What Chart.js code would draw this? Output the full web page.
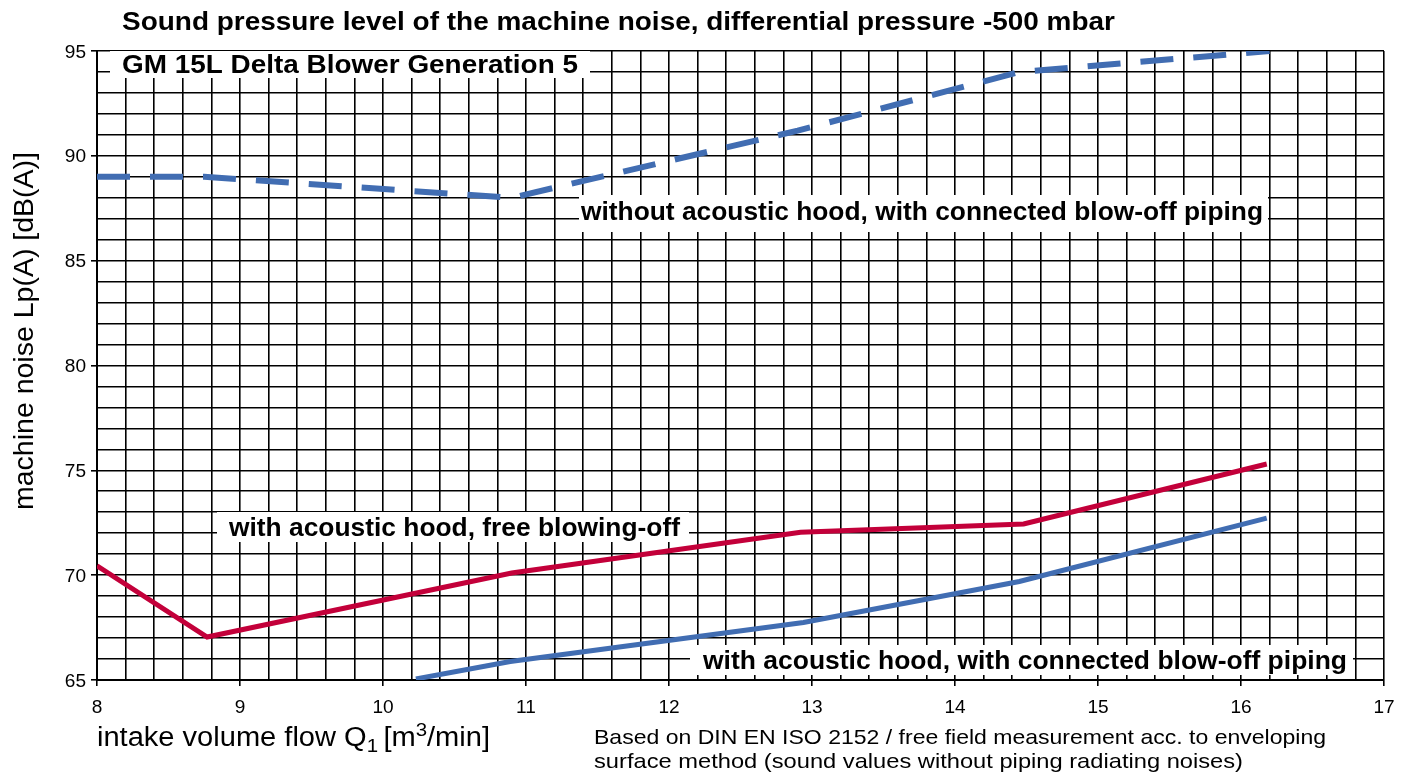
<!DOCTYPE html>
<html>
<head>
<meta charset="utf-8">
<title>Sound pressure level GM 15L</title>
<script src="https://cdn.jsdelivr.net/npm/chart.js@4.4.1/dist/chart.umd.min.js"></script>
<style>
    body { margin: 0; background: #fff; }
    #wrap { width: 1406px; height: 775px; position: relative; }
</style>
</head>
<body>
<div id="wrap"><canvas id="noiseChart" width="1406" height="775"></canvas></div>
<script>
// Values
const flowWithoutHood = [8, 8.75, 10.9, 12.9, 14.45, 16.2];
const noiseWithoutHood = [89, 89, 88, 91.2, 94, 95];

const flowHoodFree = [8, 8.77, 10.9, 12.92, 14.48, 16.18];
const noiseHoodFree = [70.45, 67.05, 70.1, 72.05, 72.44, 75.3];

const flowHoodPiping = [10.23, 10.89, 12.94, 14.45, 16.18];
const noiseHoodPiping = [65.05, 65.88, 67.74, 69.7, 72.72];

const xTickLabels = [8, 9, 10, 11, 12, 13, 14, 15, 16, 17];
const yTickLabels = [65, 70, 75, 80, 85, 90, 95];

const FONT = '"Liberation Sans", Arial, Helvetica, sans-serif';
const BLUE = '#416db2';
const RED = '#c3003a';
const STRETCH = 1.06; // tick numbers are a touch wider than Arial

function toPoints(xs, ys) {
    return xs.map((x, i) => ({ x: x, y: ys[i] }));
}

function isMajor(values, v) {
    return values.some(t => Math.abs(t - v) < 1e-6);
}

// draw text squeezed/stretched horizontally to a given width
function fillFit(ctx, text, x, y, font, width) {
    ctx.save();
    ctx.font = font;
    const w = ctx.measureText(text).width;
    ctx.translate(x, y);
    ctx.scale(width / w, 1);
    ctx.textAlign = 'left';
    ctx.fillText(text, 0, 0);
    ctx.restore();
}

function fillStretch(ctx, text, x, y, font, align) {
    ctx.save();
    ctx.font = font;
    const w = ctx.measureText(text).width * STRETCH;
    let left = x;
    if (align === 'center') left = x - w / 2;
    if (align === 'right') left = x - w;
    ctx.translate(left, y);
    ctx.scale(STRETCH, 1);
    ctx.textAlign = 'left';
    ctx.fillText(text, 0, 0);
    ctx.restore();
}

// Labels inside the plot with their white boxes
const curveLabels = [
    { text: 'GM 15L Delta Blower Generation 5', box: [110, 51, 590, 78], tx: 122, ty: 73, w: 456 },
    { text: 'without acoustic hood, with connected blow-off piping', box: [579, 195, 1268, 232], tx: 581, ty: 220, w: 682 },
    { text: 'with acoustic hood, free blowing-off', box: [217, 512, 689, 542], tx: 229, ty: 536, w: 451 },
    { text: 'with acoustic hood, with connected blow-off piping', box: [690, 645, 1353, 675], tx: 703, ty: 669, w: 644 }
];

const labelPlugin = {
    id: 'labelPlugin',
    beforeDatasetsDraw(chart) {
        const ctx = chart.ctx;
        ctx.save();
        curveLabels.forEach(l => {
            ctx.fillStyle = '#fff';
            ctx.fillRect(l.box[0], l.box[1], l.box[2] - l.box[0], l.box[3] - l.box[1]);
            ctx.fillStyle = '#000';
            ctx.textBaseline = 'alphabetic';
            fillFit(ctx, l.text, l.tx, l.ty, 'bold 26px ' + FONT, l.w);
        });
        ctx.restore();
    },
    afterDraw(chart) {
        const ctx = chart.ctx;
        const xs = chart.scales.x;
        const ys = chart.scales.y;
        ctx.save();
        ctx.fillStyle = '#000';
        ctx.textBaseline = 'alphabetic';

        // tick labels
        xTickLabels.forEach(v => {
            fillStretch(ctx, String(v), xs.getPixelForValue(v), 713, '18px ' + FONT, 'center');
        });
        yTickLabels.forEach(v => {
            fillStretch(ctx, String(v), 86, ys.getPixelForValue(v) + 6.5, '18px ' + FONT, 'right');
        });

        // Main title
        fillFit(ctx, 'Sound pressure level of the machine noise, differential pressure -500 mbar',
            122, 30, 'bold 26px ' + FONT, 993);

        // X axis title with subscript and superscript
        const big = '27px ' + FONT;
        const small = '19px ' + FONT;
        const parts = [
            { t: 'intake volume flow Q', f: big, dy: 0, gap: 0 },
            { t: '1', f: small, dy: 6, gap: 5 },
            { t: '[m', f: big, dy: 0, gap: 0 },
            { t: '3', f: small, dy: -10, gap: 0 },
            { t: '/min]', f: big, dy: 0, gap: 0 }
        ];
        let natural = 0;
        parts.forEach(p => { ctx.font = p.f; p.w = ctx.measureText(p.t).width; natural += p.w + p.gap; });
        ctx.save();
        ctx.translate(97, 746);
        ctx.scale(393 / natural, 1);
        let x = 0;
        parts.forEach(p => {
            ctx.font = p.f;
            ctx.textAlign = 'left';
            ctx.fillText(p.t, x, p.dy);
            x += p.w + p.gap;
        });
        ctx.restore();

        // Footnote
        const noteFont = '21px ' + FONT;
        fillFit(ctx, 'Based on DIN EN ISO 2152 / free field measurement acc. to enveloping', 594, 744, noteFont, 732);
        fillFit(ctx, 'surface method (sound values without piping radiating noises)', 594, 768, noteFont, 649);

        // Y axis title
        ctx.translate(33, 331);
        ctx.rotate(-Math.PI / 2);
        fillFit(ctx, 'machine noise Lp(A) [dB(A)]', -179, 0, '27px ' + FONT, 358);
        ctx.restore();
    }
};

const ctx = document.getElementById('noiseChart').getContext('2d');
const noiseChart = new Chart(ctx, {
    type: 'line',
    data: {
        datasets: [
            {
                label: 'without acoustic hood, with connected blow-off piping',
                data: toPoints(flowWithoutHood, noiseWithoutHood),
                borderColor: BLUE,
                borderWidth: 6,
                borderDash: [33, 20],
                borderCapStyle: 'butt'
            },
            {
                label: 'with acoustic hood, free blowing-off',
                data: toPoints(flowHoodFree, noiseHoodFree),
                borderColor: RED,
                borderWidth: 5
            },
            {
                label: 'with acoustic hood, with connected blow-off piping',
                data: toPoints(flowHoodPiping, noiseHoodPiping),
                borderColor: BLUE,
                borderWidth: 5
            }
        ]
    },
    options: {
        responsive: false,
        animation: false,
        layout: { padding: { left: 0, top: 51, right: 22, bottom: 0 } },
        elements: { point: { radius: 0 }, line: { tension: 0, fill: false } },
        plugins: {
            legend: { display: false },
            tooltip: { enabled: false }
        },
        scales: {
            x: {
                type: 'linear',
                min: 8,
                max: 17,
                afterFit: scale => { scale.height = 95; },
                ticks: {
                    display: false,
                    stepSize: 0.2,
                    maxTicksLimit: 100,
                    autoSkip: false
                },
                grid: {
                    color: '#000',
                    lineWidth: 1.6,
                    tickLength: 6,
                    tickColor: c => isMajor(xTickLabels, c.tick.value) ? '#000' : 'rgba(0,0,0,0)'
                },
                border: { display: true, color: '#000', width: 2 }
            },
            y: {
                min: 65,
                max: 95,
                afterFit: scale => { scale.width = 97; },
                ticks: {
                    display: false,
                    stepSize: 1,
                    maxTicksLimit: 100,
                    autoSkip: false
                },
                grid: {
                    color: '#000',
                    lineWidth: 1.6,
                    tickLength: 6,
                    tickColor: c => isMajor(yTickLabels, c.tick.value) ? '#000' : 'rgba(0,0,0,0)'
                },
                border: { display: true, color: '#000', width: 2 }
            }
        }
    },
    plugins: [labelPlugin]
});
</script>
</body>
</html>
